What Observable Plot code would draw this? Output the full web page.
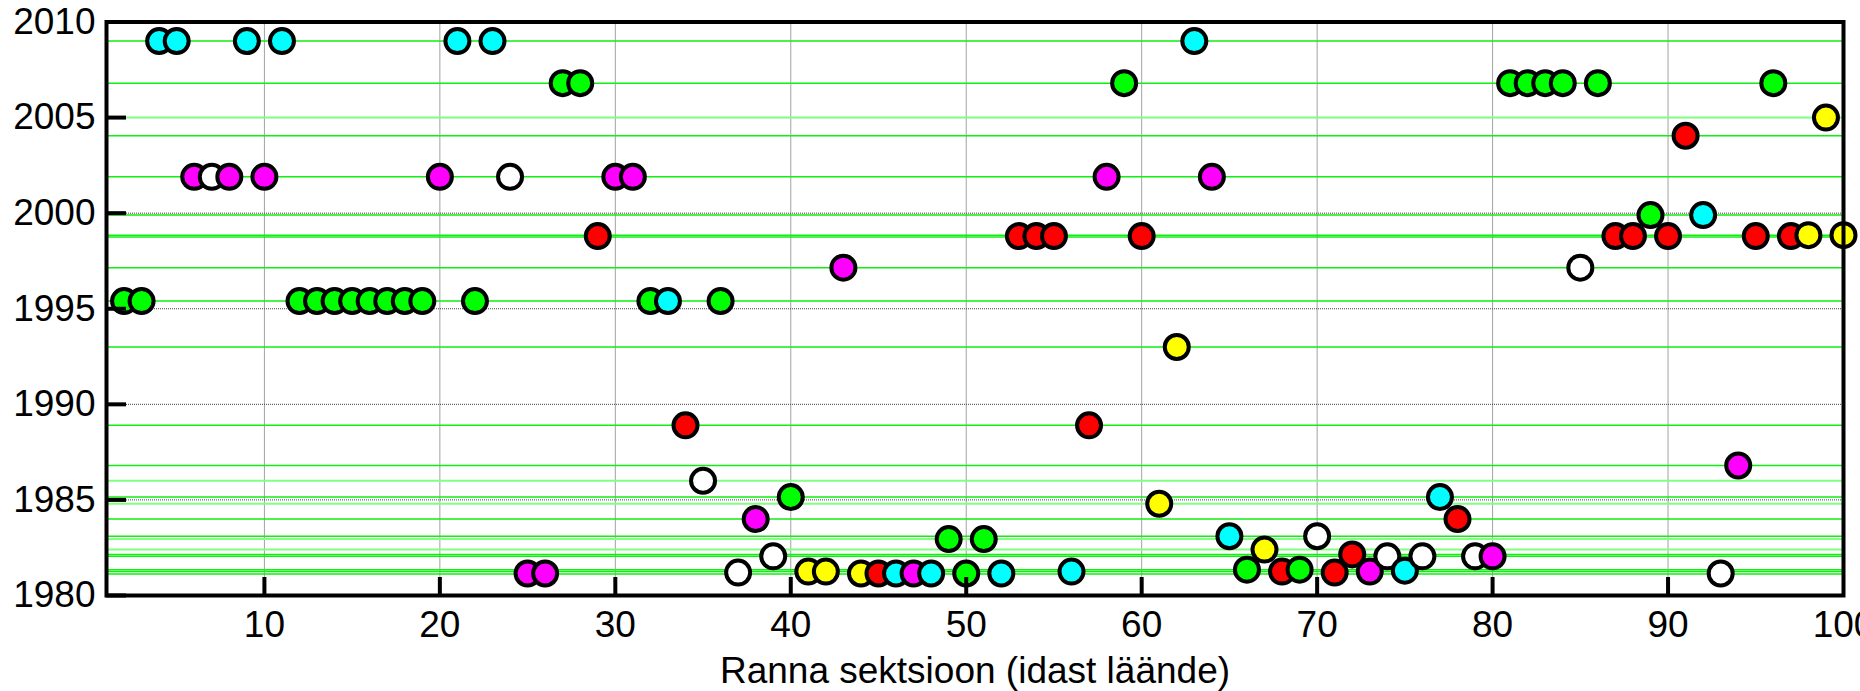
<!DOCTYPE html>
<html><head><meta charset="utf-8">
<script src="https://cdn.jsdelivr.net/npm/d3@7"></script>
<script src="https://cdn.jsdelivr.net/npm/@observablehq/plot@0.6"></script>
<style>html,body{margin:0;padding:0;background:#fff}svg{display:block}</style>
</head><body><div id="chart"></div>
<script>
// Section numbers along the coast (east to west)
const sections = [2,3,4,5,6,7,8,9,10,11,12,13,14,15,16,17,18,19,20,21,22,23,24,25,26,27,28,29,30,
  31,32,33,34,35,36,37,38,39,40,41,42,43,44,45,46,47,48,49,50,51,52,53,54,55,56,57,58,59,60,
  61,62,63,64,65,66,67,68,69,70,71,72,73,74,75,76,77,78,79,80,81,82,83,84,85,86,87,88,89,90,
  91,92,93,94,95,96,97,98,99,100];
// Year value of each section
const years = [1995.4,1995.4,2009,2009,2001.9,2001.9,2001.9,2009,2001.9,2009,
  1995.4,1995.4,1995.4,1995.4,1995.4,1995.4,1995.4,1995.4,2001.9,2009,1995.4,2009,2001.9,1981.15,1981.15,
  2006.8,2006.8,1998.8,2001.9,2001.9,1995.4,1995.4,1988.9,1986.0,1995.4,1981.2,1984.0,1982.05,1985.15,1981.25,
  1981.25,1997.15,1981.15,1981.15,1981.15,1981.15,1981.15,1982.95,1981.15,1982.95,1981.15,1998.8,1998.8,1998.8,1981.25,
  1988.9,2001.9,2006.8,1998.8,1984.8,1993.0,2009,2001.9,1983.1,1981.35,1982.4,1981.25,1981.35,1983.1,1981.2,
  1982.15,1981.25,1982.05,1981.3,1982.05,1985.15,1984.0,1982.05,1982.05,2006.8,2006.8,2006.8,2006.8,1997.15,2006.8,
  1998.8,1998.8,1999.9,1998.8,2004.05,1999.9,1981.15,1986.8,1998.8,2006.8,1998.8,1998.85,2005.0,1998.85];
// Category of each section
const groups = ["G","G","C","C","M","W","M","C","M","C",
  "G","G","G","G","G","G","G","G","M","C","G","C","W","M","M",
  "G","G","R","M","M","G","C","R","W","G","W","M","W","G","Y",
  "Y","M","Y","R","C","M","C","G","G","G","C","R","R","R","C",
  "R","M","G","R","Y","Y","C","M","C","G","Y","R","G","W","R",
  "R","M","W","C","W","C","R","W","M","G","G","G","G","W","G",
  "R","R","G","R","R","C","W","M","R","G","R","Y","Y","Y"];
const groupNames = ["C","M","W","G","R","Y"];
const groupColors = ["#00ffff","#ff00ff","#ffffff","#00ff00","#ff0000","#ffff00"];
// Survey dates (horizontal reference lines)
const surveyYears = [2009.0,2006.8,2004.05,2001.9,1999.9,1998.85,1998.75,1997.15,1995.4,1993.0,
  1988.9,1986.8,1985.15,1984.0,1983.1,1982.15,1982.05,1981.35,1981.25,1981.12];
const surveyYearsFaint = [2005.0,1986.0,1984.8,1982.95,1982.4];
const xTicks = [10,20,30,40,50,60,70,80,90,100];
const yTicks = [1980,1985,1990,1995,2000,2005,2010];
const xLabel = "Ranna sektsioon (idast läände)";

const points = sections.map((s, i) => ({section: s, year: years[i], group: groups[i]}));

const W = 1860, H = 691, mt = 21.5, mb = 96, ml = 106, mr = 17;
const fw = W - ml - mr, fh = H - mt - mb;
const chart = Plot.plot({
  width: W, height: H,
  marginTop: mt, marginBottom: mb, marginLeft: ml, marginRight: mr,
  style: {fontFamily: "'Liberation Sans', Arial, sans-serif", fontSize: "37px", background: "#fff", color: "#000", overflow: "visible"},
  x: {domain: [1, 100], label: null},
  y: {domain: [1980, 2010], label: null},
  color: {domain: groupNames, range: groupColors},
  marks: [
    Plot.gridX(xTicks.filter(d => d < 100), {stroke: "#444", strokeOpacity: 1, strokeWidth: 1, strokeDasharray: "1,1"}),
    Plot.gridY(yTicks.filter(d => d > 1980 && d < 2010), {stroke: "#444", strokeOpacity: 1, strokeWidth: 1, strokeDasharray: "1,1"}),
    Plot.ruleY(surveyYearsFaint, {stroke: "#80ff80", strokeWidth: 2}),
    Plot.ruleY(surveyYears, {stroke: "#11ee11", strokeWidth: 1.5}),
    Plot.dot(points, {x: "section", y: "year", fill: "group", r: 12, stroke: "#000", strokeWidth: 4}),
    Plot.frame({stroke: "#000", strokeWidth: 4}),
    Plot.tickX(xTicks.filter(d => d < 100), {x: d => d, insetTop: fh - 18, stroke: "#000", strokeWidth: 4}),
    Plot.tickY(yTicks, {y: d => d, insetRight: fw - 20, stroke: "#000", strokeWidth: 4}),
    Plot.axisX(xTicks, {tickSize: 0, tickPadding: 15, fontSize: 37, label: null}),
    Plot.axisY(yTicks, {tickSize: 0, tickPadding: 11, fontSize: 37, tickFormat: d => String(d), label: null}),
    Plot.text([xLabel], {text: d => d, frameAnchor: "bottom", dy: 76, lineAnchor: "middle", fontSize: 37, fill: "#000"})
  ]
});
document.getElementById("chart").appendChild(chart);
</script>
</body></html>
